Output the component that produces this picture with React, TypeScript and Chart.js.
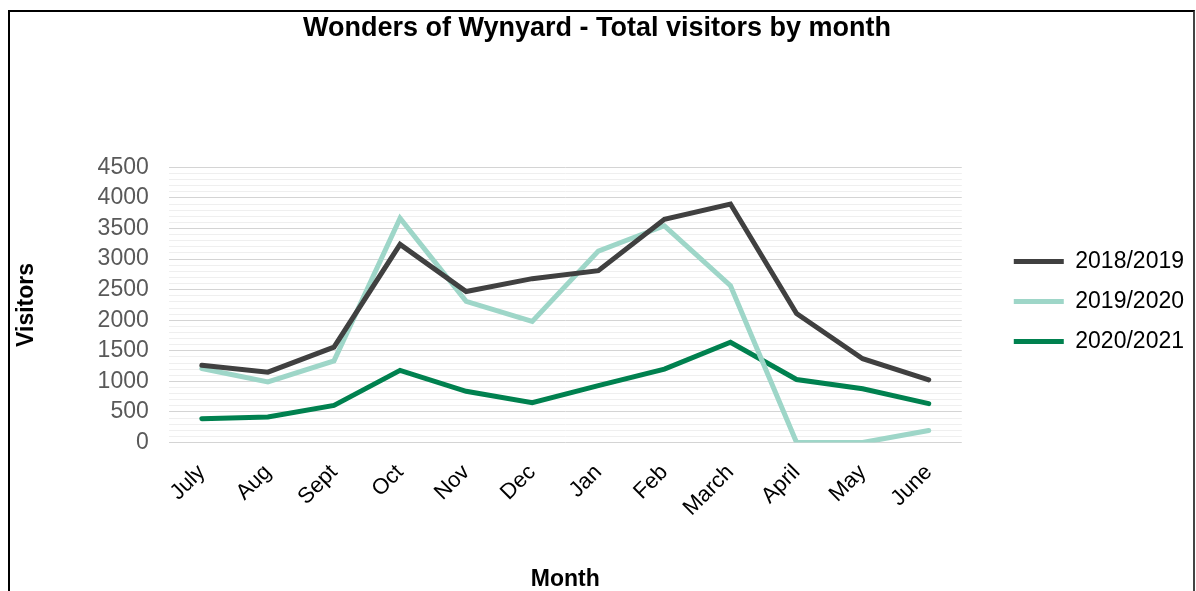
import React, { useEffect, useRef } from 'react';
import { Chart, registerables } from 'chart.js';

Chart.register(...registerables);

const months = ['July', 'Aug', 'Sept', 'Oct', 'Nov', 'Dec', 'Jan', 'Feb', 'March', 'April', 'May', 'June'];
const visitors2018 = [1265, 1150, 1560, 3240, 2470, 2680, 2810, 3650, 3900, 2110, 1370, 1025];
const visitors2019 = [1210, 990, 1335, 3670, 2310, 1980, 3130, 3545, 2565, 0, 0, 196];
const visitors2020 = [390, 418, 607, 1180, 838, 652, 930, 1200, 1640, 1030, 880, 636];

const seriesNames = ['2018/2019', '2019/2020', '2020/2021'];
const seriesColors = ['#404040', '#9ed6c8', '#00814f'];

const yMin = 0;
const yMax = 4500;
const yMinorStep = 100;
const yMajorStep = 500;

const FONT = "'Liberation Sans', Arial, sans-serif";

export default function App() {
  const ref = useRef<HTMLCanvasElement>(null);

  useEffect(() => {
    const canvas = ref.current;
    if (!canvas) return;
    const values = [visitors2018, visitors2019, visitors2020];
    const chart = new Chart(canvas, {
      type: 'line',
      data: {
        labels: months,
        datasets: values.map((v, i) => ({
          label: seriesNames[i],
          data: v,
          borderColor: seriesColors[i],
          backgroundColor: seriesColors[i],
          borderWidth: 5,
          pointRadius: 0,
          tension: 0,
          borderCapStyle: 'round' as const,
          borderJoinStyle: 'miter' as const,
          fill: false,
        })),
      },
      options: {
        responsive: false,
        animation: false,
        devicePixelRatio: 1,
        layout: { padding: { left: 0, right: 2, top: 12, bottom: 0 } },
        plugins: {
          title: {
            display: true,
            text: 'Wonders of Wynyard - Total visitors by month',
            color: '#000',
            font: { family: FONT, size: 27, weight: 'bold' },
            padding: { top: 0, bottom: 123 },
          },
          legend: {
            position: 'right',
            align: 'center',
            labels: {
              usePointStyle: true,
              pointStyle: 'line',
              pointStyleWidth: 50,
              color: '#000',
              font: { family: FONT, size: 23 },
              padding: 17,
            },
          },
          tooltip: { enabled: false },
        },
        scales: {
          x: {
            offset: true,
            grid: { display: false },
            border: { display: false },
            ticks: {
              autoSkip: false,
              minRotation: 45,
              maxRotation: 45,
              padding: 9,
              color: '#000',
              font: { family: FONT, size: 22 },
            },
            title: {
              display: true,
              text: 'Month',
              color: '#000',
              font: { family: FONT, size: 23, weight: 'bold' },
              padding: { top: 35, bottom: -2 },
            },
          },
          y: {
            min: yMin,
            max: yMax,
            border: { display: false },
            grid: {
              drawTicks: false,
              lineWidth: 1,
              color: (ctx: any) => (ctx.tick && ctx.tick.value % yMajorStep === 0 ? '#d4d4d4' : '#efefef'),
            },
            ticks: {
              stepSize: yMinorStep,
              autoSkip: false,
              padding: 20,
              color: '#595959',
              font: { family: FONT, size: 23 },
              callback: (v: any) => (Number(v) % yMajorStep === 0 ? String(v) : ''),
            },
            title: {
              display: true,
              text: 'Visitors',
              color: '#000',
              font: { family: FONT, size: 23, weight: 'bold' },
              padding: { top: 13, bottom: 37 },
            },
          },
          gap: {
            type: 'linear',
            position: 'right',
            display: true,
            grid: { display: false },
            border: { display: false },
            ticks: { display: false },
            afterFit: (scale: any) => {
              scale.width = 35;
            },
          },
        },
      } as any,
    });
    return () => chart.destroy();
  }, []);

  return (
    <div style={{ position: 'fixed', left: 0, top: 0, width: 1196, height: 591, overflow: 'hidden', background: '#fff' }}>
      <div
        style={{
          position: 'absolute',
          left: 8,
          top: 10,
          width: 1187,
          height: 700,
          boxSizing: 'border-box',
          borderTop: '2px solid #000',
          borderLeft: '2px solid #000',
          borderRight: '2px solid #444',
        }}
      />
      <canvas ref={ref} width={1196} height={591} style={{ position: 'absolute', left: 0, top: 0 }} />
    </div>
  );
}
